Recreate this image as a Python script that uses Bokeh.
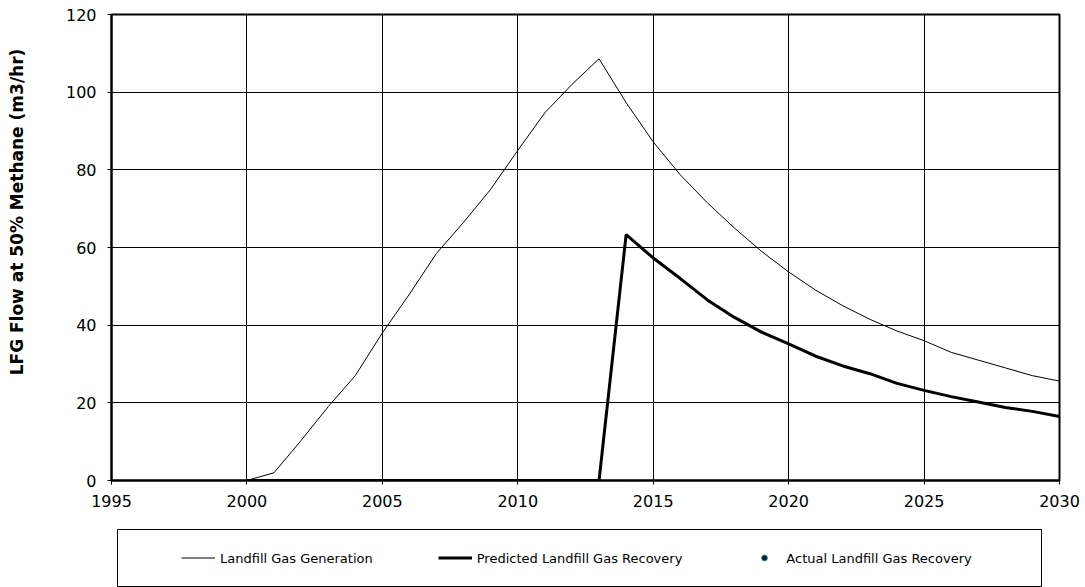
from bokeh.plotting import figure
from bokeh.models import Range1d, Legend, LegendItem, FixedTicker, BoxAnnotation
from bokeh.layouts import column
from bokeh.embed import file_html
from bokeh.resources import INLINE

years = list(range(2000, 2031))
generation = [0, 2, 10.3, 19, 27, 38, 48, 58.5, 66.5, 75, 85, 94.7, 102, 108.6,
              97.3, 87.2, 78.7, 71.5, 65, 59, 53.7, 49, 45, 41.5, 38.5, 36,
              33, 31, 29, 27, 25.6]
predicted = [0, 0, 0, 0, 0, 0, 0, 0, 0, 0, 0, 0, 0, 0,
             63.3, 57.3, 52, 46.5, 42, 38.2, 35.2, 32, 29.5, 27.5, 25, 23.2,
             21.6, 20.2, 18.8, 17.8, 16.5]
actual_years = []
actual = []

series_labels = ["Landfill Gas Generation", "Predicted Landfill Gas Recovery",
                 "Actual Landfill Gas Recovery"]
y_title = "LFG Flow at 50% Methane (m3/hr)"
x_ticks = [1995, 2000, 2005, 2010, 2015, 2020, 2025, 2030]
y_ticks = [0, 20, 40, 60, 80, 100, 120]

FONT = "DejaVu Sans"
LEFT, RIGHT = 111, 26

p = figure(width=1085, height=528, output_backend="svg", toolbar_location=None,
           x_range=Range1d(1995, 2030), y_range=Range1d(0, 120),
           min_border_left=LEFT, min_border_right=RIGHT, min_border_top=14,
           min_border_bottom=48)
p.outline_line_color = "black"
p.outline_line_width = 2
p.background_fill_color = "white"
p.border_fill_color = "white"

p.xaxis.ticker = FixedTicker(ticks=x_ticks)
p.yaxis.ticker = FixedTicker(ticks=y_ticks)
for ax in (p.xaxis[0], p.yaxis[0]):
    ax.axis_line_color = "black"
    ax.axis_line_width = 2
    ax.major_tick_line_color = "black"
    ax.major_tick_line_width = 1
    ax.major_tick_out = 4
    ax.major_tick_in = 0
    ax.minor_tick_line_color = None
    ax.major_label_text_font = FONT
    ax.major_label_text_font_size = "16px"
    ax.major_label_text_color = "black"
p.xaxis.major_label_standoff = 10
p.yaxis.major_label_standoff = 11
# leading no-break spaces lift the centred title towards the top, as in the source
p.yaxis.axis_label = "\u00a0" * 12 + y_title
p.yaxis.axis_label_text_font = FONT
p.yaxis.axis_label_text_font_size = "17px"
p.yaxis.axis_label_text_font_style = "bold"
p.yaxis.axis_label_text_color = "black"
p.yaxis.axis_label_standoff = 36

p.xgrid.grid_line_color = "black"
p.ygrid.grid_line_color = "black"
p.xgrid.grid_line_width = 1
p.ygrid.grid_line_width = 1

p.line(years, generation, line_color="black", line_width=1)
p.line(years, predicted, line_color="black", line_width=3)
p.scatter(x=actual_years, y=actual, size=5, marker="circle",
          fill_color="#0b1f3a", line_color="#1a6b7a")

# legend strip below the chart (same side borders so frames line up)
lg = figure(width=1085, height=59, output_backend="svg", toolbar_location=None,
            x_range=Range1d(0, 1085 - LEFT - RIGHT), y_range=Range1d(0, 59),
            x_axis_type=None, y_axis_type=None,
            min_border_left=LEFT, min_border_right=RIGHT, min_border_top=0,
            min_border_bottom=0)
lg.outline_line_color = None
lg.xgrid.visible = False
lg.ygrid.visible = False
lg.background_fill_color = "white"
lg.border_fill_color = "white"
lg.add_layout(BoxAnnotation(left=6, right=930, bottom=1, top=58,
                            fill_alpha=0, line_color="black", line_width=1,
                            line_alpha=1))

# legend proxies (kept outside the strip's visible range)
g1 = lg.line(years, generation, line_color="black", line_width=1)
g2 = lg.line(years, predicted, line_color="black", line_width=3)
g3 = lg.scatter(x=years[:1], y=predicted[:1], size=5, marker="circle",
                fill_color="#0b1f3a", line_color="#1a6b7a")

legend = Legend(items=[
    LegendItem(label=series_labels[0], renderers=[g1]),
    LegendItem(label=series_labels[1], renderers=[g2]),
    LegendItem(label=series_labels[2], renderers=[g3]),
], orientation="horizontal", location="left")
legend.glyph_width = 34
legend.glyph_height = 14
legend.label_standoff = 5
legend.spacing = 65
legend.padding = 0
legend.margin = 70
legend.label_text_font = FONT
legend.label_text_font_size = "13px"
legend.label_text_color = "black"
legend.border_line_color = None
legend.background_fill_alpha = 0
lg.add_layout(legend, "center")

open("out.html", "w").write(file_html(column(p, lg, spacing=0), INLINE))
